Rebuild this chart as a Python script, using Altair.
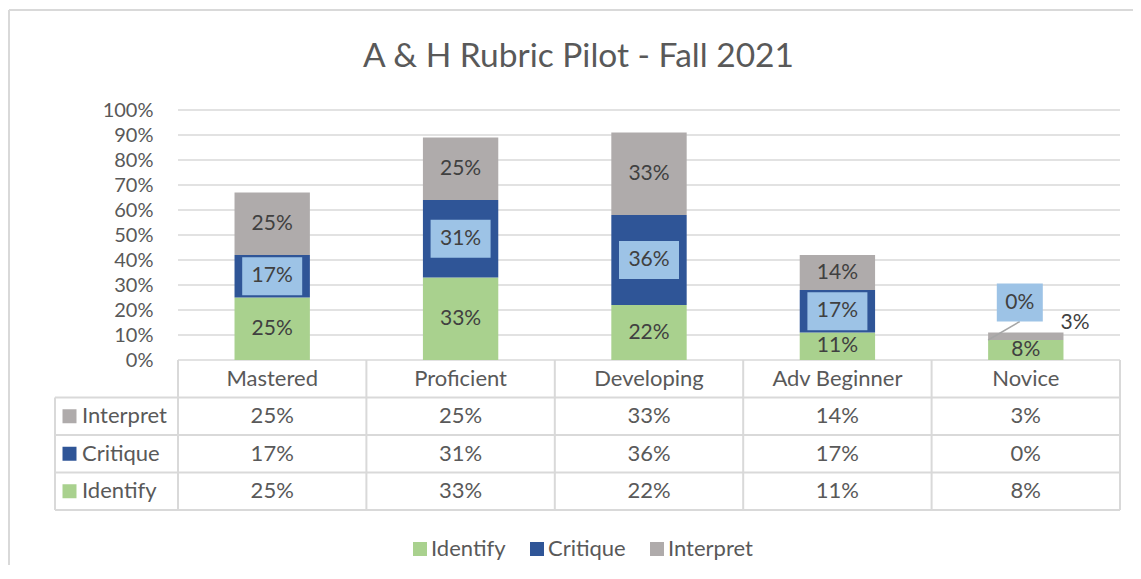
import altair as alt
import pandas as pd

# ---------------- data ----------------
categories = ["Mastered", "Proficient", "Developing", "Adv Beginner", "Novice"]
series = ["Identify", "Critique", "Interpret"]
identify = [25, 33, 22, 11, 8]
critique = [17, 31, 36, 17, 0]
interpret = [25, 25, 33, 14, 3]
series_colors = ["#a9d18e", "#2f5597", "#afabab"]
y_ticks = [0, 10, 20, 30, 40, 50, 60, 70, 80, 90, 100]
table_rows = ["Interpret", "Critique", "Identify"]
title_text = "A & H Rubric Pilot - Fall 2021"

# ---------------- style / layout ----------------
FONT = "Lato"
TEXT = "#595959"
DARK = "#404040"
GRID = "#d9d9d9"
BOX = "#9dc3e6"

W, H = 1065, 400
HEAD_PX = 123
PXU = (W - HEAD_PX) / len(categories)
HEAD = -HEAD_PX / PXU
ROW = 15
YMIN = -ROW * (len(table_rows) + 1)
PXY = H / (100 - YMIN)
BAR_HALF = 0.2
THIN = 5

values = {"Identify": identify, "Critique": critique, "Interpret": interpret}

xscale = alt.Scale(domain=[HEAD, len(categories)], nice=False, zero=False)
yscale = alt.Scale(domain=[YMIN, 100], nice=False, zero=False)
yaxis = alt.Axis(values=y_ticks, labelExpr="datum.value + '%'", grid=False, domain=False,
                 ticks=False, tickSize=0, offset=-HEAD_PX, labelPadding=25, labelFont=FONT,
                 labelFontSize=20, labelColor=TEXT, labelFlush=False, labelOverlap=False, title=None)
cscale = alt.Scale(domain=series, range=series_colors)
legend = alt.Legend(orient="none", legendX=354, legendY=428, direction="horizontal", title=None,
                    symbolType="square", symbolSize=196, symbolStrokeWidth=0, labelFont=FONT,
                    labelFontSize=22, labelColor=TEXT, labelOffset=0, columnPadding=20,
                    padding=0, rowPadding=0, labelLimit=0)


def X(f):
    return alt.X(f, type="quantitative", scale=xscale, axis=None)


def Y(f):
    return alt.Y(f, type="quantitative", scale=yscale, axis=yaxis)


# ---------------- stacked bars ----------------
bar_rows = []
for i, c in enumerate(categories):
    base = 0
    for s in series:
        v = values[s][i]
        bar_rows.append(dict(cat=c, series=s, value=v, label=f"{v}%",
                             x0=i + 0.5 - BAR_HALF, x1=i + 0.5 + BAR_HALF,
                             y0=base, y1=base + v, xm=i + 0.5, ym=base + v / 2))
        base += v
bars = pd.DataFrame(bar_rows)

# plain data labels (Identify / Interpret)
lab_in, lab_out = [], []
for r in bar_rows:
    if r["series"] == "Critique":
        continue
    if r["value"] >= THIN or r["series"] == "Identify":
        lab_in.append(dict(x=r["xm"], y=r["ym"], label=r["label"]))
    else:
        lab_out.append(dict(x=r["x1"], y=r["y1"] + 4, label=r["label"]))
lab_in = pd.DataFrame(lab_in)
lab_out = pd.DataFrame(lab_out)

# Critique boxed labels
box_rows, leader_rows = [], []
half_h = 19 / PXY
for r in bar_rows:
    if r["series"] != "Critique":
        continue
    half_w = (30 if len(r["label"]) >= 3 else 23) / PXU
    if r["value"] >= THIN:
        cx, cy = r["xm"], r["ym"]
    else:
        cx, cy = r["xm"] - 6 / PXU, r["y1"] + 15
        leader_rows.append(dict(xa=r["x0"], xb=cx, ya=r["y0"], yb=cy - half_h))
    box_rows.append(dict(cx=cx, cy=cy, bx0=cx - half_w, bx1=cx + half_w,
                         by0=cy - half_h, by1=cy + half_h, label=r["label"]))
boxes = pd.DataFrame(box_rows)
leaders = pd.DataFrame(leader_rows)

# ---------------- gridlines + table lines ----------------
grid_rows = [dict(xa=0, xb=len(categories), ya=t, yb=t) for t in y_ticks]
grid = pd.DataFrame(grid_rows)

line_rows = []
for k in range(1, len(table_rows) + 2):
    line_rows.append(dict(xa=HEAD, xb=len(categories), ya=-k * ROW, yb=-k * ROW))
line_rows.append(dict(xa=HEAD, xb=HEAD, ya=-ROW, yb=YMIN))
for i in range(len(categories) + 1):
    line_rows.append(dict(xa=i, xb=i, ya=0, yb=YMIN))
lines = pd.DataFrame(line_rows)

# ---------------- table text ----------------
cell_rows = []
for i, c in enumerate(categories):
    cell_rows.append(dict(x=i + 0.5, y=-ROW / 2, label=c))
    for r, s in enumerate(table_rows):
        cell_rows.append(dict(x=i + 0.5, y=-(r + 1) * ROW - ROW / 2, label=f"{values[s][i]}%"))
cells = pd.DataFrame(cell_rows)

head_rows = []
for r, s in enumerate(table_rows):
    head_rows.append(dict(series=s, xs=HEAD + 14.5 / PXU, xt=HEAD + 27 / PXU,
                          y=-(r + 1) * ROW - ROW / 2))
heads = pd.DataFrame(head_rows)

# ---------------- layers ----------------
grid_layer = alt.Chart(grid).mark_rule(color=GRID, strokeWidth=1.6).encode(
    x=X("xa"), x2="xb", y=Y("ya"), y2="yb")

table_layer = alt.Chart(lines).mark_rule(color=GRID, strokeWidth=2).encode(
    x=X("xa"), x2="xb", y=Y("ya"), y2="yb")

bar_layer = alt.Chart(bars).mark_rect().encode(
    x=X("x0"), x2="x1", y=Y("y0"), y2="y1",
    color=alt.Color("series:N", scale=cscale, legend=legend))

lab_in_layer = alt.Chart(lab_in).mark_text(font=FONT, fontSize=21, color=DARK,
                                           baseline="middle", align="center").encode(
    x=X("x"), y=Y("y"), text="label:N")

lab_out_layer = alt.Chart(lab_out).mark_text(font=FONT, fontSize=21, color=DARK,
                                             baseline="middle", align="left", dx=-3).encode(
    x=X("x"), y=Y("y"), text="label:N")

leader_layer = alt.Chart(leaders).mark_rule(color="#a6a6a6", strokeWidth=1.5).encode(
    x=X("xa"), x2="xb", y=Y("ya"), y2="yb")

box_layer = alt.Chart(boxes).mark_rect(color=BOX).encode(
    x=X("bx0"), x2="bx1", y=Y("by0"), y2="by1")

box_text_layer = alt.Chart(boxes).mark_text(font=FONT, fontSize=21, color=DARK,
                                            baseline="middle", align="center").encode(
    x=X("cx"), y=Y("cy"), text="label:N")

cell_layer = alt.Chart(cells).mark_text(font=FONT, fontSize=22, color=TEXT,
                                        baseline="middle", align="center").encode(
    x=X("x"), y=Y("y"), text="label:N")

swatch_layer = alt.Chart(heads).mark_square(size=196, opacity=1, strokeWidth=0).encode(
    x=X("xs"), y=Y("y"), color=alt.Color("series:N", scale=cscale, legend=legend))

head_text_layer = alt.Chart(heads).mark_text(font=FONT, fontSize=22, color=TEXT,
                                             baseline="middle", align="left").encode(
    x=X("xt"), y=Y("y"), text="series:N")

frame_top = alt.Chart(alt.Data(values=[{}])).mark_rule(color=GRID, strokeWidth=2).encode(
    x=alt.value(-46), x2=alt.value(W + 40), y=alt.value(-100))
frame_left = alt.Chart(alt.Data(values=[{}])).mark_rule(color=GRID, strokeWidth=2).encode(
    x=alt.value(-46), y=alt.value(-100), y2=alt.value(H + 80))

title_layer = alt.Chart(alt.Data(values=[{"t": title_text}])).mark_text(
    font=FONT, fontSize=33.5, color=TEXT, align="center", baseline="alphabetic").encode(
    x=alt.value(W / 2 - 9), y=alt.value(-43), text="t:N")

chart = alt.layer(
    grid_layer, table_layer, bar_layer, lab_in_layer, lab_out_layer, leader_layer, box_layer,
    box_text_layer, cell_layer, swatch_layer, head_text_layer, frame_top, frame_left,
    title_layer
).properties(
    width=W, height=H, autosize="none",
    padding={"left": 47, "top": 102, "right": 13, "bottom": 55},
    background="white"
).configure_view(stroke=None)

chart.save("out.html", embed_options={"renderer": "svg", "actions": False})
